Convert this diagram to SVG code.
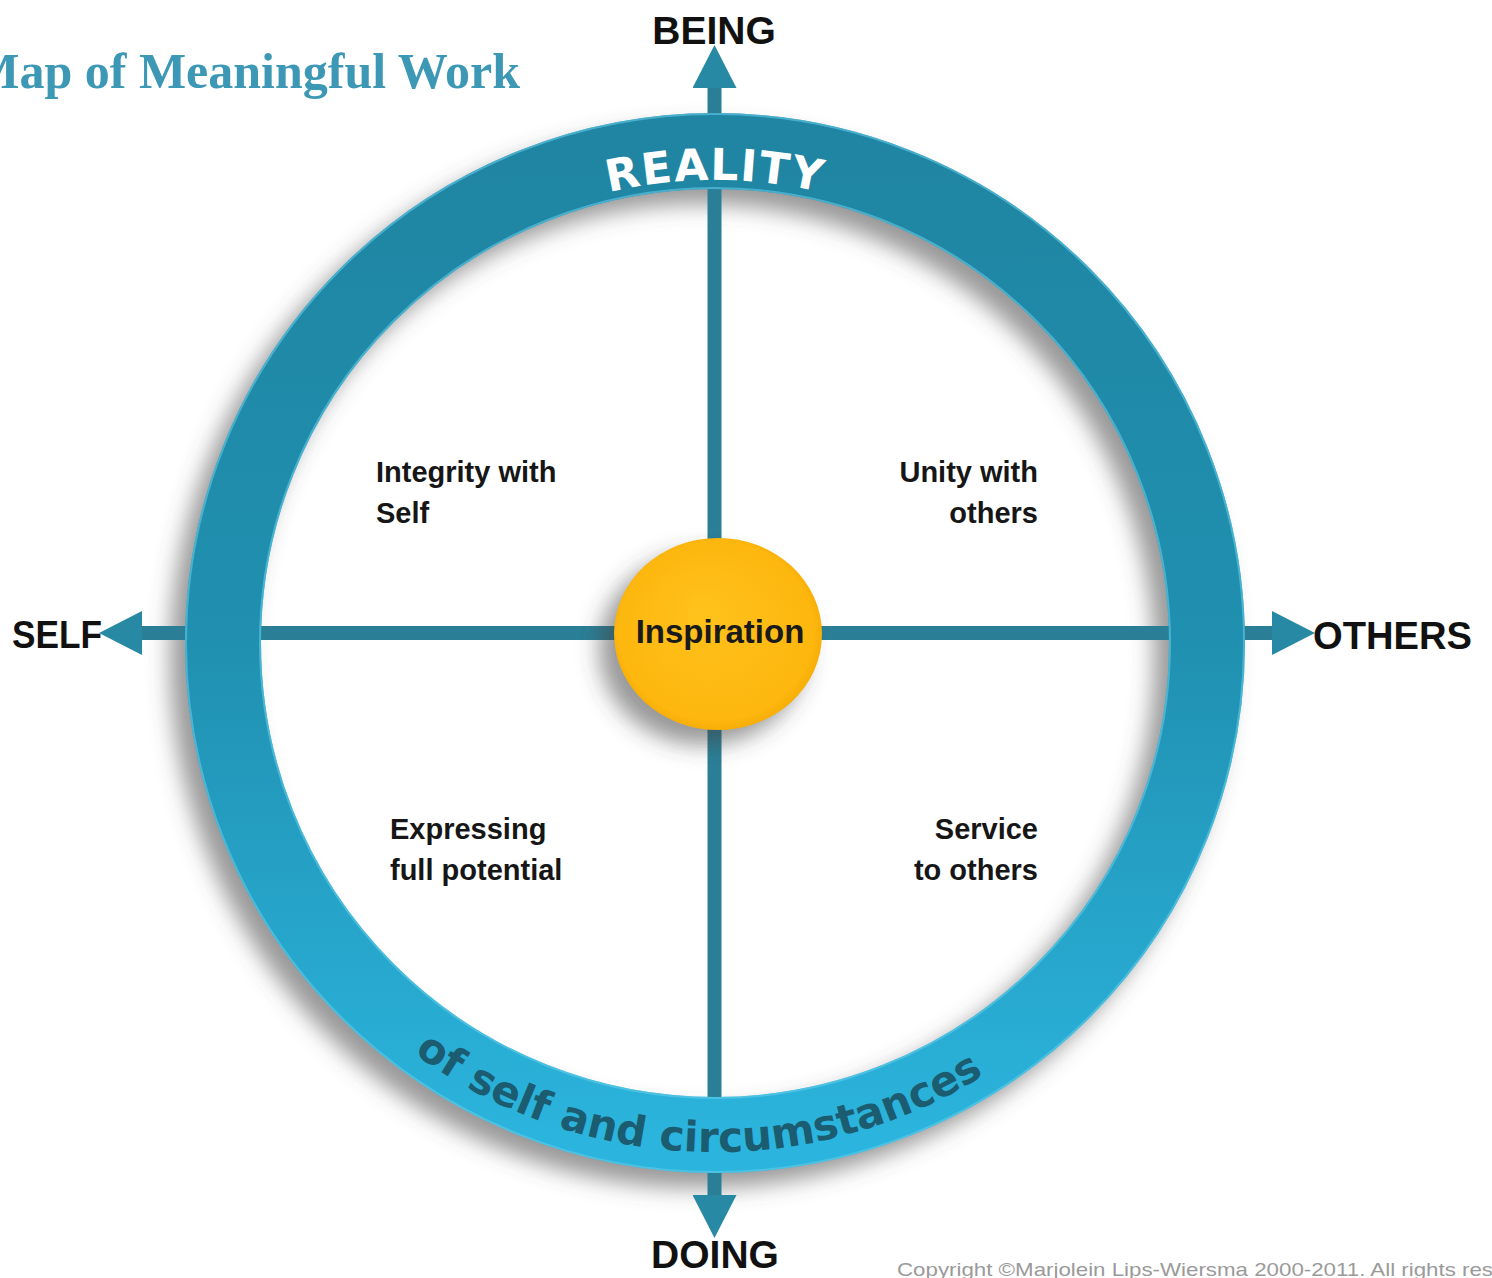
<svg xmlns="http://www.w3.org/2000/svg" width="1492" height="1278" viewBox="0 0 1492 1278">
  <defs>
    <style>
      .axis { fill: none; stroke: #2a7f97; stroke-width: 14; marker-start: url(#arrow); marker-end: url(#arrow); }
      .pole { font-family: "Liberation Sans", Arial, sans-serif; font-weight: bold; font-size: 39px; fill: #111; }
      .quad { font-family: "Liberation Sans", Arial, sans-serif; font-weight: bold; font-size: 29px; fill: #161616; }
      .ringtxt { font-family: "DejaVu Sans", Verdana, sans-serif; font-weight: bold; }
    </style>
    <marker id="arrow" viewBox="0 0 43 44" refX="0" refY="22" markerWidth="43" markerHeight="44" markerUnits="userSpaceOnUse" orient="auto-start-reverse">
      <path d="M0,0 L43,22 L0,44 Z" fill="#2789a4"/>
    </marker>
    <linearGradient id="ringGrad" x1="0" y1="0" x2="0" y2="1">
      <stop offset="0" stop-color="#1f85a2"/>
      <stop offset="0.5" stop-color="#2090b0"/>
      <stop offset="1" stop-color="#2bb4dd"/>
    </linearGradient>
    <radialGradient id="sunGrad" cx="0.5" cy="0.5" r="0.55" fx="0.42" fy="0.38">
      <stop offset="0" stop-color="#ffc21c"/>
      <stop offset="0.85" stop-color="#fdb70e"/>
      <stop offset="1" stop-color="#f2a600"/>
    </radialGradient>
    <filter id="blur" x="-20%" y="-20%" width="140%" height="140%">
      <feGaussianBlur stdDeviation="11"/>
    </filter>
    <path id="topArc" d="M252,643 A463,463 0 0 1 1178,643"/>
    <path id="botArc" d="M206,643 A509,509 0 0 0 1224,643"/>
  </defs>

  <rect width="1492" height="1278" fill="#ffffff"/>

  <g id="title">
    <text x="520" y="88" text-anchor="end" font-family="'Liberation Serif', 'Times New Roman', serif" font-weight="bold" font-size="50" fill="#3d98b6">Map of Meaningful Work</text>
  </g>

  <!-- ring shadow -->
  <circle cx="700" cy="658" r="492" fill="none" stroke="#555" stroke-opacity="0.6" stroke-width="76" filter="url(#blur)"/>

  <g id="connectors">
    <path class="axis" d="M142,633 L1272,633"/>
    <path class="axis" d="M714.5,1195 L714.5,88"/>
  </g>

  <g id="ring">
    <circle cx="715" cy="643" r="492" fill="none" stroke="url(#ringGrad)" stroke-width="76"/>
    <circle cx="715" cy="643" r="529" fill="none" stroke="#62cbea" stroke-width="2" stroke-opacity="0.6"/>
    <circle cx="715" cy="643" r="455" fill="none" stroke="#62cbea" stroke-width="2" stroke-opacity="0.6"/>
    <text class="ringtxt" font-size="44" fill="#ffffff" letter-spacing="1.5" text-anchor="middle"><textPath href="#topArc" startOffset="50%">REALITY</textPath></text>
    <text class="ringtxt" font-size="42" fill="#1b5c70" text-anchor="middle"><textPath href="#botArc" startOffset="48.8%">of self and circumstances</textPath></text>
  </g>

  <g id="inspiration">
    <ellipse cx="703" cy="649" rx="104" ry="96" fill="#444" fill-opacity="0.55" filter="url(#blur)"/>
    <ellipse cx="718" cy="634" rx="104" ry="96" fill="url(#sunGrad)"/>
    <text x="720" y="643" text-anchor="middle" font-family="'Liberation Sans', Arial, sans-serif" font-weight="bold" font-size="33" fill="#1a1a1a">Inspiration</text>
  </g>

  <g id="being"><text class="pole" x="714" y="44" text-anchor="middle">BEING</text></g>
  <g id="doing"><text class="pole" x="715" y="1268" text-anchor="middle">DOING</text></g>
  <g id="self"><text class="pole" x="12" y="648" textLength="90" lengthAdjust="spacingAndGlyphs">SELF</text></g>
  <g id="others"><text class="pole" x="1313" y="649" textLength="159" lengthAdjust="spacingAndGlyphs">OTHERS</text></g>

  <g id="integrity">
    <text class="quad" x="376" y="482">Integrity with</text>
    <text class="quad" x="376" y="523">Self</text>
  </g>
  <g id="unity">
    <text class="quad" x="1038" y="482" text-anchor="end">Unity with</text>
    <text class="quad" x="1038" y="523" text-anchor="end">others</text>
  </g>
  <g id="expressing">
    <text class="quad" x="390" y="839">Expressing</text>
    <text class="quad" x="390" y="880">full potential</text>
  </g>
  <g id="service">
    <text class="quad" x="1038" y="839" text-anchor="end">Service</text>
    <text class="quad" x="1038" y="880" text-anchor="end">to others</text>
  </g>

  <g id="copyright">
    <text x="897" y="1276" font-family="'Liberation Sans', Arial, sans-serif" font-size="19" fill="#9a9a9a" textLength="596" lengthAdjust="spacingAndGlyphs">Copyright ©Marjolein Lips-Wiersma 2000-2011. All rights res</text>
  </g>
</svg>
